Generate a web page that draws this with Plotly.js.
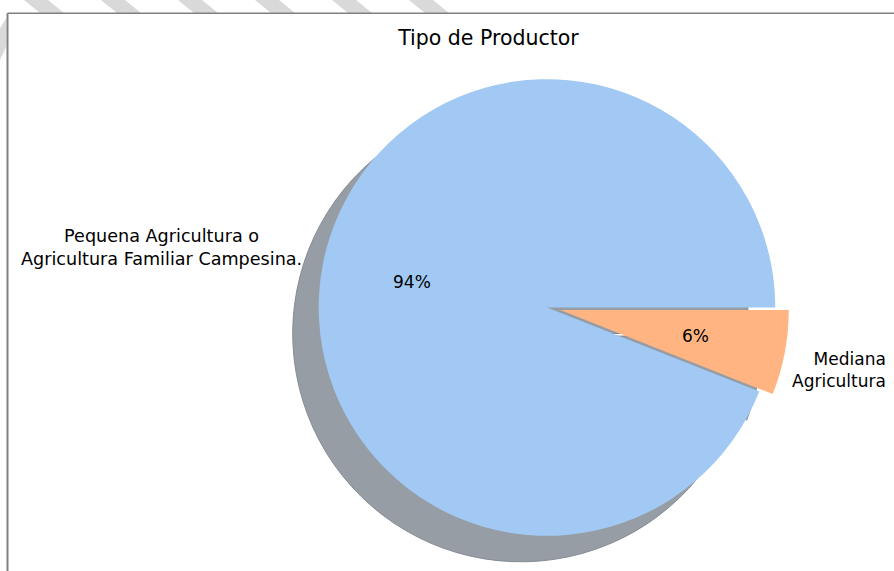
<!DOCTYPE html>
<html><head><meta charset="utf-8">
<script src="https://cdn.plot.ly/plotly-3.0.1.min.js"></script>
<style>html,body{margin:0;padding:0;overflow:hidden;background:#fff}#chart{width:894px;height:600px}</style>
</head><body><div id="chart"></div>
<script>
// ---- data ----
const categories = ["Pequena Agricultura o<br>Agricultura Familiar Campesina.", "Mediana<br>Agricultura"];
const values = [94, 6];
const percentLabels = ["94%", "6%"];
const colors = ["#a1c9f4", "#ffb482"];
const pulls = [0, 0.06];
const titleText = "Tipo de Productor";

// ---- geometry (pixels) ----
const W = 894, H = 600;
const R = 228.3, CX = 547, CY = 307.5;
const SHX = -26, SHY = 26;
const maxPull = Math.max(...pulls);
const total = values.reduce((a, b) => a + b, 0);
function domainFor(cx, cy) {
  const half = R * (1 + maxPull);
  return {x: [(cx - half) / W, (cx + half) / W], y: [1 - (cy + half) / H, 1 - (cy - half) / H]};
}
const px = x => x / W, py = y => 1 - y / H;

// first slice starts at 3 o'clock and runs counter-clockwise (like matplotlib startangle=0)
const rotation = 90 - 360 * values[0] / total;
const common = {
  type: 'pie', values: values, labels: categories, sort: false,
  direction: 'counterclockwise', rotation: rotation, pull: pulls,
  textinfo: 'none', hoverinfo: 'skip', showlegend: false
};
const shadow = Object.assign({}, common, {
  domain: domainFor(CX + SHX, CY + SHY),
  marker: {colors: values.map(() => '#979da4'), line: {color: '#868c93', width: 1}}
});
const main = Object.assign({}, common, {
  domain: domainFor(CX, CY),
  marker: {colors: colors, line: {width: 0}}
});

// ---- text positions from slice angles ----
const annotations = [];
const labelNudge = [[4, -13], [-17, 13]];
const labelSize = [17.6, 17];
let cum = 0;
values.forEach((v, i) => {
  const t1 = cum / total * 360, t2 = (cum + v) / total * 360;
  cum += v;
  const mid = (t1 + t2) / 2 * Math.PI / 180;
  const dx = Math.cos(mid), dy = -Math.sin(mid);
  const cx = CX + pulls[i] * R * dx, cy = CY + pulls[i] * R * dy;
  annotations.push({
    x: px(cx + 0.6 * R * dx), y: py(cy + 0.6 * R * dy), xref: 'paper', yref: 'paper',
    text: percentLabels[i], showarrow: false, xanchor: 'center', yanchor: 'middle',
    font: {family: 'DejaVu Sans', size: 17, color: '#000'}
  });
  const left = dx < 0;
  annotations.push({
    x: px(cx + 1.1 * R * dx + labelNudge[i][0]), y: py(cy + 1.1 * R * dy + labelNudge[i][1]),
    xref: 'paper', yref: 'paper', text: categories[i], showarrow: false,
    xanchor: left ? 'right' : 'left', yanchor: 'middle', align: left ? 'center' : 'right',
    font: {family: 'DejaVu Sans', size: labelSize[i], color: '#000'}
  });
});

// ---- decorations: frame lines and grey stripes ----
const shapes = [];
for (let k = 0; k < 6; k++) {
  const x0 = 24 + 77 * k;
  shapes.push({type: 'path', xref: 'paper', yref: 'paper', layer: 'below',
    path: `M ${px(x0)} ${py(0)} L ${px(x0 + 24)} ${py(0)} L ${px(x0 + 40)} ${py(13)} L ${px(x0 + 16)} ${py(13)} Z`,
    fillcolor: '#d9d9d9', line: {width: 0}});
}
shapes.push({type: 'path', xref: 'paper', yref: 'paper', layer: 'below',
  path: `M ${px(0)} ${py(28)} L ${px(6.5)} ${py(18)} L ${px(6.5)} ${py(46)} L ${px(0)} ${py(60)} Z`,
  fillcolor: '#d9d9d9', line: {width: 0}});
shapes.push({type: 'line', xref: 'paper', yref: 'paper', x0: px(7.5), x1: px(894), y0: py(13.3), y1: py(13.3),
  line: {color: '#808080', width: 1.5}});
shapes.push({type: 'line', xref: 'paper', yref: 'paper', x0: px(7.5), x1: px(7.5), y0: py(13.3), y1: 0,
  line: {color: '#808080', width: 2}});

const layout = {
  width: W, height: H, margin: {l: 0, r: 0, t: 0, b: 0},
  paper_bgcolor: '#fff', plot_bgcolor: '#fff',
  title: {text: titleText, x: 488.5 / W, xanchor: 'center', y: 1 - 38 / H, yanchor: 'middle',
    font: {family: 'DejaVu Sans', size: 20.5, color: '#000'}},
  annotations: annotations, shapes: shapes
};
Plotly.newPlot('chart', [shadow, main], layout, {displayModeBar: false, staticPlot: true});
</script></body></html>
